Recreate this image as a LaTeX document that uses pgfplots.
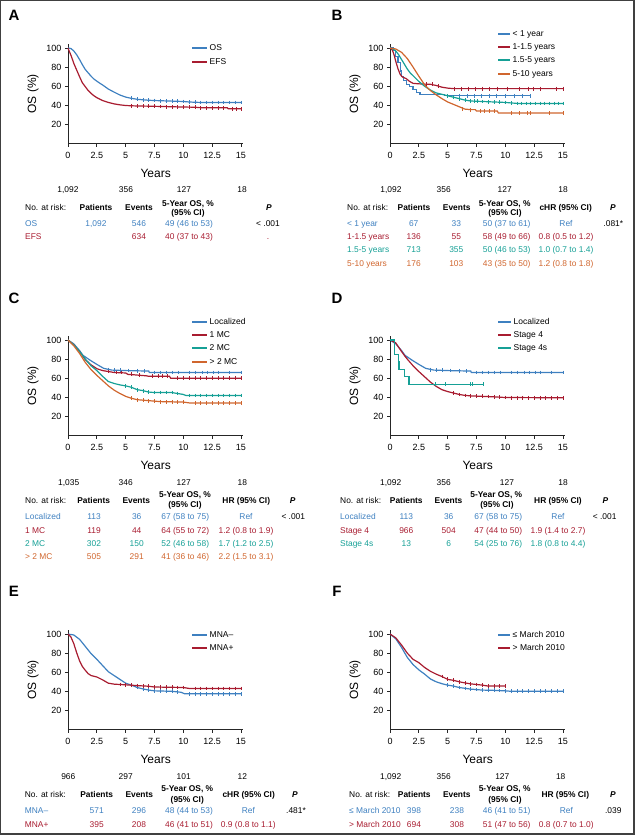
\documentclass[border=0pt]{standalone}
\usepackage{fontspec}
\setmainfont{Liberation Sans}
\usepackage{pgfplots}
\pgfplotsset{compat=1.18}
\definecolor{cblue}{RGB}{62,128,192}
\definecolor{cred}{RGB}{168,28,48}
\definecolor{cteal}{RGB}{22,160,150}
\definecolor{corange}{RGB}{208,102,46}
\newcommand{\tf}{\fontsize{8.4}{10}\selectfont}
\newcommand{\lf}{\fontsize{8.5}{10}\selectfont}
\pgfplotsset{kmaxis/.style={
  scale only axis, width=175.3pt, height=99.3pt,
  xmin=0, xmax=15.2, ymin=0, ymax=104,
  axis x line*=bottom, axis y line*=left,
  axis line style={line width=0.9pt, black!85, -},
  tick align=outside, major tick length=3pt,
  tick style={line width=0.8pt, black!85},
  xtick={0,2.5,5,7.5,10,12.5,15}, xticklabels={0,2.5,5,7.5,10,12.5,15},
  ytick={20,40,60,80,100}, yticklabels={20,40,60,80,100},
  tick label style={font=\fontsize{9}{10}\selectfont},
  xticklabel style={yshift=-2.5pt},
  xlabel={Years}, ylabel={OS (\%)},
  label style={font=\fontsize{12}{13}\selectfont},
  xlabel style={at={(axis description cs:0.5,-0.297)},anchor=center},
  ylabel style={at={(axis description cs:-0.2,0.5)},anchor=center},
  clip=false,
  every axis plot/.append style={line width=1.2pt},
}}
\tikzset{
  tab/.style={font=\tf, inner sep=0pt, text height=6pt, text depth=1.7pt},
  censor/.style={only marks, mark=|, mark size=1.9pt, mark options={line width=0.5pt}},
}
\newcommand{\leg}[5]{\draw[#1,line width=1.2pt] (#2,#4) -- (#3,#4); \node[anchor=west,font=\lf,inner sep=0pt,text height=6pt,text depth=1.7pt] at ({#3+2.5},#4) {#5};}
\begin{document}
\begin{tikzpicture}
% ---------------- A ----------------
\begin{axis}[kmaxis, at={(68pt,-143.5pt)}, anchor=south west]
\addplot[cblue] coordinates {(0,100)(0.25,99.5)(0.5,97)(0.75,93)(1,88)(1.25,82.5)(1.5,77.5)(1.75,74)(2,70.5)(2.25,67.5)(2.5,65.3)(2.75,63.2)(3,61.3)(3.5,57)(4,53.8)(4.5,50.8)(5,48.6)(5.5,47.3)(6,46.3)(6.5,45.8)(7,45.3)(7.5,45)(8,44.8)(9,44.4)(10,44)(10.5,43.5)(11,43.2)(11.5,43)(15,43)};
\addplot[censor,cblue] coordinates {(5.5,47.3)(6,46.3)(6.5,45.8)(7,45.3)(7.5,45)(8,44.8)(8.5,44.6)(9,44.4)(9.5,44.2)(10,44)(10.5,43.5)(11,43.2)(11.5,43)(12,43)(12.5,43)(13,43)(13.5,43)(14,43)(14.5,43)(15,43)};
\addplot[cred] coordinates {(0,100)(0.1,97)(0.3,91)(0.5,84)(0.75,77)(1,70)(1.25,63.5)(1.5,59.5)(1.75,55.5)(2,52.5)(2.25,50)(2.5,48)(2.75,46.5)(3,45)(3.5,43)(4,41.5)(4.5,40.5)(5,39.8)(5.5,39.5)(6,39.3)(7,39.1)(8,38.8)(9,38.5)(10,38.2)(11,38)(11.5,37.5)(13.8,37.5)(13.9,36.3)(15,36.3)};
\addplot[censor,cred] coordinates {(5.5,39.5)(6,39.3)(6.5,39.2)(7,39.1)(7.5,39)(8,38.8)(8.5,38.6)(9,38.5)(9.5,38.3)(10,38.2)(10.5,38.1)(11,38)(11.5,37.5)(12,37.5)(12.5,37.5)(13,37.5)(13.5,37.5)(14.2,36.3)(14.6,36.3)(15,36.3)};
\end{axis}
% ---------------- B ----------------
\begin{axis}[kmaxis, at={(390pt,-143.5pt)}, anchor=south west]
\addplot[cblue,const plot] coordinates {(0,100)(0.3,97)(0.5,91)(0.7,84.5)(0.9,76)(1.0,70)(1.2,66)(1.4,62)(1.7,60)(2.0,56.5)(2.3,53)(2.6,51.5)(4.7,50)(12.2,50)};
\addplot[censor,cblue] coordinates {(5,50)(6,50)(6.7,50)(7.3,50)(7.9,50)(8.6,50)(9.2,50)(10,50)(10.8,50)(11.5,50)(12.2,50)};
\addplot[cred] coordinates {(0,100)(0.2,98)(0.35,93)(0.5,86)(0.7,78)(0.9,72)(1.1,69.5)(1.4,68)(1.7,65)(2,63)(2.5,62.5)(3,62.2)(3.5,62)(4,60.8)(4.5,59)(5,58)(5.5,57.5)(15,57.5)};
\addplot[censor,cred] coordinates {(3.1,62.2)(3.7,62)(4.2,60.5)(5.6,57.5)(6.2,57.5)(6.8,57.5)(7.4,57.5)(8,57.5)(8.6,57.5)(9.3,57.5)(10.2,57.5)(11.2,57.5)(12,57.5)(12.4,57.5)(13,57.5)(14.4,57.5)(15,57.5)};
\addplot[cteal] coordinates {(0,100)(0.25,99)(0.5,97)(0.75,93)(1,88)(1.25,83)(1.5,78)(1.75,74)(2,71)(2.5,65)(3,60)(3.5,56)(4,53)(4.5,51.5)(5,50)(5.5,48.5)(6,47)(6.5,45.5)(7,44.5)(8,44)(9,43.5)(10,43)(10.5,42.5)(11,42)(15,42)};
\addplot[censor,cteal] coordinates {(5,50)(5.5,48.5)(6,47)(6.5,45.5)(7,44.5)(7.3,44.3)(7.6,44.2)(8,44)(8.5,43.8)(9,43.5)(9.5,43.3)(10,43)(10.5,42.5)(11,42)(11.4,42)(11.8,42)(12.2,42)(12.6,42)(13,42)(13.4,42)(13.8,42)(14.2,42)(14.6,42)(15,42)};
\addplot[corange] coordinates {(0,100)(0.5,99)(1,95.5)(1.5,89)(2,80)(2.5,70.5)(3,61.5)(3.5,55.5)(4,51)(4.5,47)(5,43.5)(5.5,41)(6,38.5)(6.5,36)(7,35.5)(7.4,35.5)(7.5,34)(9.3,34)(9.4,32)(15,32)};
\addplot[censor,corange] coordinates {(6.3,36.5)(7,35.5)(7.8,34)(8.2,34)(8.6,34)(9,34)(10.5,32)(11.2,32)(11.9,32)(12.2,32)(13.8,32)(15,32)};
\end{axis}
% ---------------- C ----------------
\begin{axis}[kmaxis, at={(68pt,-435.5pt)}, anchor=south west]
\addplot[cblue] coordinates {(0,100)(0.5,96)(1,89)(1.3,84)(1.9,79)(2.5,74.5)(3.1,70.3)(3.8,68.5)(5,68)(7,67.5)(7.05,66)(15,66)};
\addplot[censor,cblue] coordinates {(3.5,69)(4,68.5)(4.5,68.3)(5.2,68)(6,67.8)(6.6,67.6)(7.5,66)(8,66)(8.5,66)(9,66)(9.6,66)(10.5,66)(11,66)(11.6,66)(12.1,66)(12.6,66)(13,66)(14,66)(15,66)};
\addplot[cred] coordinates {(0,100)(0.5,95)(1,88)(1.5,79.5)(2,74)(2.5,70)(3,68)(3.5,67)(4,66)(5,65.5)(5.2,64)(5.8,63.5)(6.8,62.5)(7,62)(8.8,62)(8.9,60)(15,60)};
\addplot[censor,cred] coordinates {(3.5,67)(4.2,66)(4.6,66)(5.5,64)(6.2,63.5)(7.3,62)(7.8,62)(8.2,62)(8.6,62)(9.5,60)(10,60)(10.5,60)(11,60)(11.5,60)(12,60)(12.5,60)(13,60)(13.5,60)(14,60)(14.5,60)(15,60)};
\addplot[cteal] coordinates {(0,100)(0.5,95)(1,88)(1.5,80)(2,73)(2.5,68)(3,62)(3.5,56.5)(4,54.5)(4.5,53)(5,52)(5.5,50.5)(6,48)(6.5,47)(7,45.5)(7.5,45)(9,45)(9.5,44)(10,43)(10.2,42)(15,42)};
\addplot[censor,cteal] coordinates {(5,52)(5.5,50.5)(6,48)(6.5,47)(7,45.5)(7.5,45)(8,45)(8.5,45)(9,45)(9.5,44)(10.5,42)(11,42)(11.5,42)(12,42)(12.5,42)(13,42)(13.5,42)(14,42)(14.5,42)(15,42)};
\addplot[corange] coordinates {(0,100)(0.5,94)(1,86)(1.5,76.5)(2,69)(2.5,63)(3,57.5)(3.5,52)(4,47.5)(4.5,44)(5,41)(5.5,39)(6,37.5)(7,36.5)(8,35.5)(10,35)(10.6,34)(15,34)};
\addplot[censor,corange] coordinates {(5.5,39)(6,37.5)(6.5,37)(7,36.5)(7.5,36)(8,35.5)(8.5,35.3)(9,35.2)(9.5,35.1)(10,35)(11,34)(11.5,34)(12,34)(12.5,34)(13,34)(13.5,34)(14,34)(14.5,34)(15,34)};
\end{axis}
% ---------------- D ----------------
\begin{axis}[kmaxis, at={(390pt,-435.5pt)}, anchor=south west]
\addplot[cblue] coordinates {(0,100)(0.5,96)(1,89)(1.3,84)(1.9,79)(2.5,74.5)(3.1,70.3)(3.8,68.5)(5,68)(7,67.5)(7.05,66)(15,66)};
\addplot[censor,cblue] coordinates {(3.5,69)(4,68.5)(4.5,68.3)(5.2,68)(6,67.8)(6.6,67.6)(7.5,66)(8,66)(8.5,66)(9,66)(9.6,66)(10.5,66)(11,66)(11.6,66)(12.1,66)(12.6,66)(13,66)(14,66)(15,66)};
\addplot[cred] coordinates {(0,100)(0.5,97)(1,88)(1.3,83)(1.5,80)(2,73)(2.5,67)(3,61.5)(3.5,56)(4,51.5)(4.5,48)(5,46)(5.5,44.5)(6,43)(6.5,42)(7,41.5)(8,41)(9,40.5)(10,39.8)(15,39.5)};
\addplot[censor,cred] coordinates {(5.5,44.5)(6,43)(6.5,42)(7,41.5)(7.5,41.2)(8,41)(8.5,40.8)(9,40.5)(9.5,40.1)(10,39.8)(10.5,39.7)(11,39.6)(11.5,39.6)(12,39.5)(12.5,39.5)(13,39.5)(13.5,39.5)(14,39.5)(14.5,39.5)(15,39.5)};
\addplot[cteal,const plot] coordinates {(0,100)(0.37,84.6)(0.72,76.9)(0.78,69.2)(1.24,61.5)(1.65,53.8)(8.1,53.8)};
\addplot[censor,cteal] coordinates {(3.9,53.8)(4.8,53.8)(7,53.8)(7.15,53.8)(8.1,53.8)};
\end{axis}
% ---------------- E ----------------
\begin{axis}[kmaxis, at={(68pt,-729.5pt)}, anchor=south west]
\addplot[cblue] coordinates {(0,100)(0.5,99)(1,94.5)(1.5,87)(2,79.5)(2.5,73.5)(3,67)(3.5,60.5)(4,56.5)(4.5,52.5)(5,48.5)(5.5,46.5)(6,44)(6.5,42.5)(7,41.3)(7.5,40.5)(9,40)(9.8,39)(10.1,37.5)(15,37.5)};
\addplot[censor,cblue] coordinates {(5.5,46.5)(6,44)(6.5,42.5)(7,41.3)(7.5,40.5)(8,40.3)(8.5,40.2)(9,40)(9.5,39.5)(10.5,37.5)(11,37.5)(11.5,37.5)(12,37.5)(12.5,37.5)(13,37.5)(13.5,37.5)(14,37.5)(14.5,37.5)(15,37.5)};
\addplot[cred] coordinates {(0,100)(0.25,97)(0.5,90)(0.75,80.5)(1,72)(1.25,66)(1.5,62)(1.75,58.5)(2,56.5)(2.5,55)(3,52)(3.5,48.5)(4,47.5)(5,46.8)(6,46)(7,45.3)(7.5,44.5)(10,44)(10.5,43)(15,43)};
\addplot[censor,cred] coordinates {(4.5,47.2)(5,46.8)(5.5,46.4)(6,46)(6.5,45.7)(7,45.3)(7.5,44.5)(8,44.4)(8.5,44.3)(9,44.2)(9.5,44.1)(10,44)(11,43)(11.5,43)(12,43)(12.5,43)(13,43)(13.5,43)(14,43)(14.5,43)(15,43)};
\end{axis}
% ---------------- F ----------------
\begin{axis}[kmaxis, at={(390pt,-729.5pt)}, anchor=south west]
\addplot[cblue] coordinates {(0,100)(0.5,95)(1,86)(1.5,75.5)(2,68)(2.5,62.5)(3,58)(3.5,53)(4,50)(4.5,48)(5,46.5)(5.5,45.5)(6,44)(7,42.3)(8,41.3)(9,41)(10,40.5)(10.5,40)(15,40)};
\addplot[censor,cblue] coordinates {(5,46.5)(5.5,45.5)(6,44)(6.5,43)(7,42.3)(7.5,41.8)(8,41.3)(8.5,41.1)(9,41)(9.5,40.8)(10,40.5)(10.5,40)(11,40)(11.5,40)(12,40)(12.5,40)(13,40)(13.5,40)(14,40)(14.5,40)(15,40)};
\addplot[cred] coordinates {(0,100)(0.5,96)(1,88.5)(1.5,80)(2,73.5)(2.5,70)(3,65)(3.5,61)(4,58)(4.5,55.5)(5,52.5)(5.5,51.5)(6,50)(6.5,48.8)(7,47.8)(8,46.5)(8.5,45.5)(10,45.5)};
\addplot[censor,cred] coordinates {(4.5,55.5)(5,52.5)(5.5,51.5)(6,50)(6.5,48.8)(7,47.8)(7.5,47.2)(8,46.5)(8.5,45.5)(9,45.5)(9.5,45.5)(10,45.5)};
\end{axis}
% ---------------- texts ----------------
\begin{scope}[x=1pt,y=-1pt]
\path (0,0) rectangle (637,836);
\draw[line width=1.2pt, black!75] (0.6,0.6) rectangle (634,834);
\foreach \l/\x/\y in {A/14/15.5,B/337/15.5,C/14/298,D/337/298,E/14/591,F/337/591}
  \node[font=\fontsize{15}{16}\selectfont\bfseries, inner sep=0pt] at (\x,\y) {\l};
% legends
\leg{cblue}{192}{207}{48}{OS}
\leg{cred}{192}{207}{62}{EFS}
\leg{cblue}{498}{510}{34}{< 1 year}
\leg{cred}{498}{510}{47}{1-1.5 years}
\leg{cteal}{498}{510}{60}{1.5-5 years}
\leg{corange}{498}{510}{74}{5-10 years}
\leg{cblue}{192}{207}{322}{Localized}
\leg{cred}{192}{207}{335}{1 MC}
\leg{cteal}{192}{207}{348}{2 MC}
\leg{corange}{192}{207}{362}{> 2 MC}
\leg{cblue}{498}{511}{322}{Localized}
\leg{cred}{498}{511}{335}{Stage 4}
\leg{cteal}{498}{511}{348}{Stage 4s}
\leg{cblue}{192}{207}{635}{MNA\textendash}
\leg{cred}{192}{207}{648}{MNA+}
\leg{cblue}{498}{510}{635}{≤ March 2010}
\leg{cred}{498}{510}{648}{> March 2010}
% ===== table A =====
\node[tab] at (68,190) {1,092}; \node[tab] at (126,190) {356}; \node[tab] at (184,190) {127}; \node[tab] at (242,190) {18};
\node[tab,anchor=west] at (25,208) {No. at risk:};
\node[tab] at (96,208) {\bfseries Patients};
\node[tab] at (139,208) {\bfseries Events};
\node[tab] at (188,204) {\bfseries 5-Year OS, \%};
\node[tab] at (188,213.3) {\bfseries (95\% CI)};
\node[tab] at (269,208) {\bfseries\itshape P};
\begin{scope}[cblue]
\node[tab,anchor=west] at (25,224) {OS}; \node[tab] at (96,224) {1,092}; \node[tab] at (139,224) {546}; \node[tab] at (189,224) {49 (46 to 53)};
\end{scope}
\node[tab] at (268,224) {< .001};
\begin{scope}[cred]
\node[tab,anchor=west] at (25,237.3) {EFS}; \node[tab] at (139,237.3) {634}; \node[tab] at (189,237.3) {40 (37 to 43)}; \node[tab] at (268,237.3) {.};
\end{scope}
% ===== table B =====
\node[tab] at (391,190) {1,092}; \node[tab] at (443.7,190) {356}; \node[tab] at (504.7,190) {127}; \node[tab] at (563,190) {18};
\node[tab,anchor=west] at (347,208) {No. at risk:};
\node[tab] at (414,208) {\bfseries Patients};
\node[tab] at (456.7,208) {\bfseries Events};
\node[tab] at (504.7,204) {\bfseries 5-Year OS, \%};
\node[tab] at (505,213.3) {\bfseries (95\% CI)};
\node[tab] at (565.7,208) {\bfseries cHR (95\% CI)};
\node[tab] at (613,208) {\bfseries\itshape P};
\begin{scope}[cblue]
\node[tab,anchor=west] at (347,224.3) {< 1 year}; \node[tab] at (413.7,224.3) {67}; \node[tab] at (456.3,224.3) {33}; \node[tab] at (506.7,224.3) {50 (37 to 61)}; \node[tab] at (566,224.3) {Ref};
\end{scope}
\node[tab] at (613.3,224.3) {.081*};
\begin{scope}[cred]
\node[tab,anchor=west] at (347,237.3) {1-1.5 years}; \node[tab] at (413.7,237.3) {136}; \node[tab] at (456.3,237.3) {55}; \node[tab] at (506.7,237.3) {58 (49 to 66)}; \node[tab] at (566,237.3) {0.8 (0.5 to 1.2)};
\end{scope}
\begin{scope}[cteal]
\node[tab,anchor=west] at (347,250.7) {1.5-5 years}; \node[tab] at (413.7,250.7) {713}; \node[tab] at (456.3,250.7) {355}; \node[tab] at (506.7,250.7) {50 (46 to 53)}; \node[tab] at (566,250.7) {1.0 (0.7 to 1.4)};
\end{scope}
\begin{scope}[corange]
\node[tab,anchor=west] at (347,264) {5-10 years}; \node[tab] at (413.7,264) {176}; \node[tab] at (456.3,264) {103}; \node[tab] at (506.7,264) {43 (35 to 50)}; \node[tab] at (566,264) {1.2 (0.8 to 1.8)};
\end{scope}
% ===== table C =====
\node[tab] at (68.7,483) {1,035}; \node[tab] at (125.7,483) {346}; \node[tab] at (183.7,483) {127}; \node[tab] at (242.3,483) {18};
\node[tab,anchor=west] at (25,501.7) {No. at risk:};
\node[tab] at (93.7,501.7) {\bfseries Patients};
\node[tab] at (136.3,501.7) {\bfseries Events};
\node[tab] at (185,495) {\bfseries 5-Year OS, \%};
\node[tab] at (185,505.7) {\bfseries (95\% CI)};
\node[tab] at (246.3,501.7) {\bfseries HR (95\% CI)};
\node[tab] at (292.7,501.7) {\bfseries\itshape P};
\begin{scope}[cblue]
\node[tab,anchor=west] at (25,517.3) {Localized}; \node[tab] at (94,517.3) {113}; \node[tab] at (136.7,517.3) {36}; \node[tab] at (185.3,517.3) {67 (58 to 75)}; \node[tab] at (246,517.3) {Ref};
\end{scope}
\node[tab] at (293.3,517.3) {< .001};
\begin{scope}[cred]
\node[tab,anchor=west] at (25,531) {1 MC}; \node[tab] at (94,531) {119}; \node[tab] at (136.7,531) {44}; \node[tab] at (185.3,531) {64 (55 to 72)}; \node[tab] at (246,531) {1.2 (0.8 to 1.9)};
\end{scope}
\begin{scope}[cteal]
\node[tab,anchor=west] at (25,544.3) {2 MC}; \node[tab] at (94,544.3) {302}; \node[tab] at (136.7,544.3) {150}; \node[tab] at (185.3,544.3) {52 (46 to 58)}; \node[tab] at (246,544.3) {1.7 (1.2 to 2.5)};
\end{scope}
\begin{scope}[corange]
\node[tab,anchor=west] at (25,557.7) {> 2 MC}; \node[tab] at (94,557.7) {505}; \node[tab] at (136.7,557.7) {291}; \node[tab] at (185.3,557.7) {41 (36 to 46)}; \node[tab] at (246,557.7) {2.2 (1.5 to 3.1)};
\end{scope}
% ===== table D =====
\node[tab] at (390.7,483) {1,092}; \node[tab] at (443.7,483) {356}; \node[tab] at (507,483) {127}; \node[tab] at (563,483) {18};
\node[tab,anchor=west] at (340,501.7) {No. at risk:};
\node[tab] at (406.3,501.7) {\bfseries Patients};
\node[tab] at (448.5,501.7) {\bfseries Events};
\node[tab] at (496.3,495) {\bfseries 5-Year OS, \%};
\node[tab] at (497,505.7) {\bfseries (95\% CI)};
\node[tab] at (558,501.7) {\bfseries HR (95\% CI)};
\node[tab] at (605.3,501.7) {\bfseries\itshape P};
\begin{scope}[cblue]
\node[tab,anchor=west] at (340,517.3) {Localized}; \node[tab] at (406.3,517.3) {113}; \node[tab] at (448.7,517.3) {36}; \node[tab] at (498.3,517.3) {67 (58 to 75)}; \node[tab] at (558,517.3) {Ref};
\end{scope}
\node[tab] at (604.7,517.3) {< .001};
\begin{scope}[cred]
\node[tab,anchor=west] at (340,531) {Stage 4}; \node[tab] at (406.3,531) {966}; \node[tab] at (448.7,531) {504}; \node[tab] at (498.3,531) {47 (44 to 50)}; \node[tab] at (558,531) {1.9 (1.4 to 2.7)};
\end{scope}
\begin{scope}[cteal]
\node[tab,anchor=west] at (340,544.3) {Stage 4s}; \node[tab] at (406.3,544.3) {13}; \node[tab] at (448.7,544.3) {6}; \node[tab] at (498.3,544.3) {54 (25 to 76)}; \node[tab] at (558,544.3) {1.8 (0.8 to 4.4)};
\end{scope}
% ===== table E =====
\node[tab] at (68.3,777.3) {966}; \node[tab] at (125.7,777.3) {297}; \node[tab] at (183.7,777.3) {101}; \node[tab] at (242.3,777.3) {12};
\node[tab,anchor=west] at (24.7,795.7) {No. at risk:};
\node[tab] at (96.7,795.7) {\bfseries Patients};
\node[tab] at (139.3,795.7) {\bfseries Events};
\node[tab] at (187.3,789.3) {\bfseries 5-Year OS, \%};
\node[tab] at (187.3,800) {\bfseries (95\% CI)};
\node[tab] at (248.7,795.7) {\bfseries cHR (95\% CI)};
\node[tab] at (295,795.7) {\bfseries\itshape P};
\begin{scope}[cblue]
\node[tab,anchor=west] at (24.7,811.7) {MNA\textendash}; \node[tab] at (96.7,811.7) {571}; \node[tab] at (139,811.7) {296}; \node[tab] at (189,811.7) {48 (44 to 53)}; \node[tab] at (248.3,811.7) {Ref};
\end{scope}
\node[tab] at (296,811.7) {.481*};
\begin{scope}[cred]
\node[tab,anchor=west] at (24.7,825) {MNA+}; \node[tab] at (96.7,825) {395}; \node[tab] at (139,825) {208}; \node[tab] at (189,825) {46 (41 to 51)}; \node[tab] at (248.3,825) {0.9 (0.8 to 1.1)};
\end{scope}
% ===== table F =====
\node[tab] at (390.7,777.3) {1,092}; \node[tab] at (443.7,777.3) {356}; \node[tab] at (502.3,777.3) {127}; \node[tab] at (560.7,777.3) {18};
\node[tab,anchor=west] at (349,795.7) {No. at risk:};
\node[tab] at (414.3,795.7) {\bfseries Patients};
\node[tab] at (456.8,795.7) {\bfseries Events};
\node[tab] at (504.7,789.3) {\bfseries 5-Year OS, \%};
\node[tab] at (505,800) {\bfseries (95\% CI)};
\node[tab] at (565.3,795.7) {\bfseries HR (95\% CI)};
\node[tab] at (613,795.7) {\bfseries\itshape P};
\begin{scope}[cblue]
\node[tab,anchor=west] at (349,811.7) {≤ March 2010}; \node[tab] at (414,811.7) {398}; \node[tab] at (457,811.7) {238}; \node[tab] at (506.7,811.7) {46 (41 to 51)}; \node[tab] at (566.3,811.7) {Ref};
\end{scope}
\node[tab] at (613.3,811.7) {.039};
\begin{scope}[cred]
\node[tab,anchor=west] at (349,825) {> March 2010}; \node[tab] at (414,825) {694}; \node[tab] at (457,825) {308}; \node[tab] at (506.7,825) {51 (47 to 56)}; \node[tab] at (566.3,825) {0.8 (0.7 to 1.0)};
\end{scope}
\end{scope}
\end{tikzpicture}
\end{document}
